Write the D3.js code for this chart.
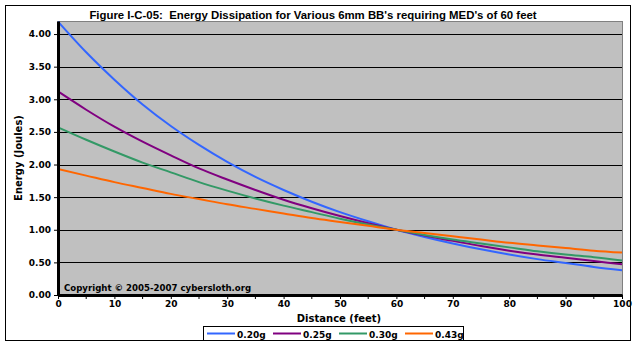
<!DOCTYPE html>
<html>
<head>
<meta charset="utf-8">
<script src="https://cdn.jsdelivr.net/npm/d3@7"></script>
<style>
    body { margin: 0; background: #fff; }
    svg text { font-family: "DejaVu Sans", Verdana, sans-serif; font-weight: bold; fill: #000; }
    .title { font-family: "Liberation Sans", Arial, sans-serif; font-size: 11.4px; white-space: pre; }
    .tick text { font-size: 9px; }
</style>
</head>
<body>
<div id="chart"></div>
<script>
"use strict";

// distance along the x axis (feet)
const distances = [0, 5, 10, 15, 20, 25, 30, 35, 40, 45, 50, 55, 60, 65, 70, 75, 80, 85, 90, 95, 100];

// energy (joules) at each distance
const energy020 = [4.19, 3.72, 3.30, 2.92, 2.59, 2.30, 2.04, 1.81, 1.61, 1.43, 1.27, 1.13, 1.00, 0.89, 0.79, 0.70, 0.62, 0.55, 0.49, 0.43, 0.38];
const energy025 = [3.12, 2.84, 2.58, 2.35, 2.14, 1.94, 1.77, 1.61, 1.46, 1.33, 1.21, 1.10, 1.00, 0.91, 0.83, 0.75, 0.68, 0.62, 0.57, 0.52, 0.47];
const energy030 = [2.57, 2.38, 2.20, 2.03, 1.88, 1.73, 1.60, 1.48, 1.37, 1.27, 1.17, 1.08, 1.00, 0.92, 0.85, 0.79, 0.73, 0.67, 0.62, 0.58, 0.53];
const energy043 = [1.93, 1.83, 1.73, 1.64, 1.55, 1.47, 1.39, 1.32, 1.25, 1.18, 1.12, 1.06, 1.00, 0.95, 0.90, 0.85, 0.80, 0.76, 0.72, 0.68, 0.65];

const seriesNames = ["0.20g", "0.25g", "0.30g", "0.43g"];
const seriesColors = ["#3366FF", "#800080", "#339966", "#FF6600"];

const yTicks = [0, 0.5, 1, 1.5, 2, 2.5, 3, 3.5, 4];
const xTicks = [0, 10, 20, 30, 40, 50, 60, 70, 80, 90, 100];
const xMinorTicks = [5, 15, 25, 35, 45, 55, 65, 75, 85, 95];

/**
 * @class
 */
class EnergyChart {

    constructor(selector) {
        this.width = 637;
        this.height = 346;
        this.svg = d3.select(selector).append("svg")
            .attr("width", this.width)
            .attr("height", this.height);
        this.x = d3.scaleLinear().domain([0, 100]).range([58, 622]);
        this.y = d3.scaleLinear().domain([0, 4.2]).range([295, 21]);
    }

    render() {
        const svg = this.svg, x = this.x, y = this.y;

        svg.append("rect").attr("x", 5.5).attr("y", 5.5)
            .attr("width", 625).attr("height", 335)
            .attr("fill", "#fff").attr("stroke", "#000");

        svg.append("text").attr("class", "title")
            .attr("x", 313).attr("y", 19)
            .attr("text-anchor", "middle")
            .text("Figure I-C-05:  Energy Dissipation for Various 6mm BB's requiring MED's of 60 feet");

        // plot area
        svg.append("rect")
            .attr("x", x(0)).attr("y", y(4.2) + 0.5)
            .attr("width", x(100) - x(0) + 0.5).attr("height", y(0) - y(4.2))
            .attr("fill", "#C0C0C0").attr("stroke", "#808080");

        svg.append("g").selectAll("line")
            .data(yTicks.filter(d => d > 0))
            .join("line")
            .attr("x1", x(0)).attr("x2", x(100))
            .attr("y1", d => Math.round(y(d)) + 0.5).attr("y2", d => Math.round(y(d)) + 0.5)
            .attr("stroke", "#000");

        const series = [energy020, energy025, energy030, energy043];
        const line = d3.line()
            .x((d, i) => x(distances[i]))
            .y(d => y(d))
            .curve(d3.curveMonotoneX);

        svg.append("g").selectAll("path")
            .data(series)
            .join("path")
            .attr("d", d => line(d))
            .attr("fill", "none")
            .attr("stroke", (d, i) => seriesColors[i])
            .attr("stroke-width", 2);

        svg.append("text")
            .attr("x", 64).attr("y", 291)
            .attr("font-size", 8.6)
            .text("Copyright \u00A9 2005-2007 cybersloth.org");

        // axes
        const yAxis = svg.append("g")
            .attr("transform", "translate(" + x(0) + ",0)")
            .call(d3.axisLeft(y).tickValues(yTicks).tickFormat(d3.format(".2f"))
                .tickSize(4).tickPadding(3).tickSizeOuter(0));
        yAxis.select(".domain").attr("stroke-width", 3);
        yAxis.selectAll(".tick line").attr("stroke-width", 1);

        const xAxis = svg.append("g")
            .attr("transform", "translate(0," + y(0) + ")")
            .call(d3.axisBottom(x).tickValues(xTicks).tickFormat(d3.format("d"))
                .tickSize(4).tickPadding(2).tickSizeOuter(0));
        xAxis.select(".domain").attr("stroke-width", 3);

        xAxis.append("g").selectAll("line")
            .data(xMinorTicks)
            .join("line")
            .attr("x1", d => x(d)).attr("x2", d => x(d))
            .attr("y1", 0).attr("y2", 4)
            .attr("stroke", "#000");

        svg.append("text")
            .attr("x", 339).attr("y", 322)
            .attr("text-anchor", "middle")
            .attr("font-size", 10)
            .text("Distance (feet)");

        svg.append("text")
            .attr("transform", "translate(22,158) rotate(-90)")
            .attr("text-anchor", "middle")
            .attr("font-size", 10)
            .text("Energy (Joules)");

        // legend
        const legend = svg.append("g");
        legend.append("rect")
            .attr("x", 203.5).attr("y", 326.5)
            .attr("width", 260).attr("height", 14)
            .attr("fill", "#fff").attr("stroke", "#000");

        const item = legend.selectAll("g")
            .data(seriesNames)
            .join("g")
            .attr("transform", (d, i) => "translate(" + (207 + i * 66) + ",0)");
        item.append("line")
            .attr("x1", 0).attr("x2", 28)
            .attr("y1", 333.5).attr("y2", 333.5)
            .attr("stroke", (d, i) => seriesColors[i])
            .attr("stroke-width", 2);
        item.append("text")
            .attr("x", 30).attr("y", 338)
            .attr("font-size", 9)
            .text(d => d);
    }
}

new EnergyChart("#chart").render();
</script>
</body>
</html>
